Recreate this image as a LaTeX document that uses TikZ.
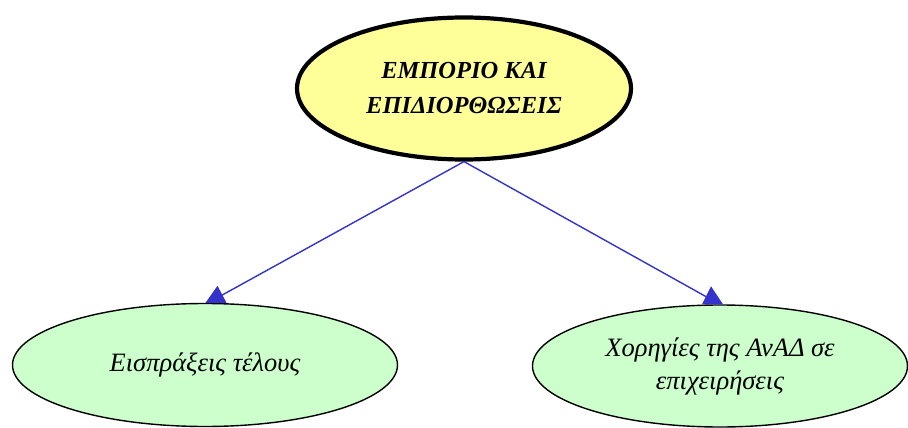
\documentclass[tikz,border=0pt]{standalone}
\usepackage{fontspec}
\setmainfont{Liberation Serif}
\usetikzlibrary{calc,shapes.geometric}
\definecolor{topfill}{HTML}{FFFF99}
\definecolor{leaffill}{HTML}{CCFFCC}
\definecolor{linkblue}{HTML}{3333CC}
\begin{document}
\begin{tikzpicture}[x=1pt,y=-1pt,
  topbox/.style={ellipse,draw=black,line width=4.2pt,fill=topfill,minimum width=334pt,minimum height=142pt,inner sep=0pt,align=center,font=\fontsize{24.5}{35}\selectfont\bfseries\itshape},
  leafbox/.style={ellipse,draw=black,line width=1.4pt,fill=leaffill,inner sep=0pt,align=center,font=\fontsize{26.5}{33}\selectfont\itshape},
  link/.style={draw=linkblue,line width=1.4pt},
  tip/.style={fill=linkblue}]
\useasboundingbox (0,0) rectangle (908,428);
\node[topbox] (top) at (464,88.5) {ΕΜΠΟΡΙΟ ΚΑΙ\\ΕΠΙΔΙΟΡΘΩΣΕΙΣ};
\node[leafbox,minimum width=385pt,minimum height=123pt] (left) at (205,365) {Εισπράξεις τέλους};
\node[leafbox,minimum width=375pt,minimum height=122pt] (right) at (720,366) {Χορηγίες της ΑνΑΔ σε\\επιχειρήσεις};
% arrow heads sitting on the leaf ellipses
\coordinate (la) at ([xshift=0.5pt]left.north);
\coordinate (lb) at ([xshift=21.5pt]left.north);
\coordinate (lc) at ([xshift=12.5pt,yshift=17pt]left.north);
\coordinate (lm) at ([xshift=14pt,yshift=6pt]left.north);
\coordinate (ra) at ([xshift=-18pt]right.north);
\coordinate (rb) at ([xshift=3pt]right.north);
\coordinate (rc) at ([xshift=-9pt,yshift=18pt]right.north);
\coordinate (rm) at ([xshift=-11pt,yshift=6pt]right.north);
\draw[link] (top.south) -- (lm);
\draw[link] (top.south) -- (rm);
\fill[tip] (la) -- (lb) -- (lc) -- cycle;
\fill[tip] (ra) -- (rb) -- (rc) -- cycle;
\end{tikzpicture}
\end{document}
